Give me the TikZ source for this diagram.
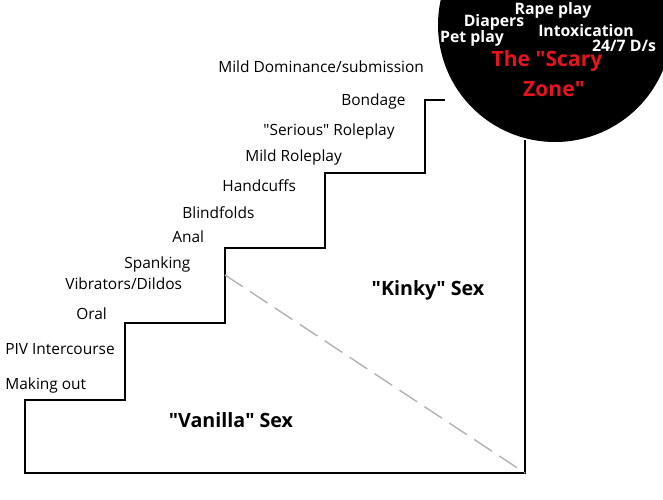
\documentclass[tikz,border=0pt]{standalone}
\usepackage{fontspec}
\setmainfont[Ligatures=NoCommon]{Open Sans}
\usetikzlibrary{positioning}
\definecolor{scaryred}{RGB}{230,20,30}

\begin{document}
\begin{tikzpicture}[x=0.02cm, y=-0.02cm,
    act/.style={font=\fontsize{8.8}{10}\selectfont, anchor=west, inner sep=0pt},
    zone/.style={font=\fontsize{11.2}{12}\selectfont\bfseries, inner sep=0pt},
    kink/.style={font=\fontsize{9}{10}\selectfont\bfseries, text=white, inner sep=0pt}
]
\useasboundingbox (0,0) rectangle (663,500);

% Staircase outline
\draw[thick] (525,140) -- (525,473) -- (25,473) -- (25,400) -- (125,400) -- (125,323)
    -- (225,323) -- (225,248) -- (325,248) -- (325,173) -- (425,173) -- (425,100) -- (445,100);
\draw[thick, gray!60, dash pattern=on 12pt off 5pt] (225,275) -- (525,473);

% Scary zone
\fill[black] (555,25) circle (117);

% Activities
\node[act] (mk) at (5,385) {Making out};
\node[act] (piv) at (5,349) {PIV Intercourse};
\node[act] (oral) at (76,314) {Oral};
\node[act] (vib) at (65,284) {Vibrators/Dildos};
\node[act] (spk) at (124,264) {Spanking};
\node[act] (anal) at (172,237) {Anal};
\node[act] (blind) at (182,213) {Blindfolds};
\node[act] (cuffs) at (222,186) {Handcuffs};
\node[act] (mrp) at (245,157) {Mild Roleplay};
\node[act] (srp) at (263,131) {\textquotedbl Serious\textquotedbl{} Roleplay};
\node[act] (bond) at (341,101) {Bondage};
\node[act] (mds) at (218,67) {Mild Dominance/submission};

% Zones
\node[zone] (kinky) at (428,290) {\textquotedbl Kinky\textquotedbl{} Sex};
\node[zone] (vanilla) at (231,420) {\textquotedbl Vanilla\textquotedbl{} Sex};

% Inside the circle
\node[kink] (rape) at (553,10) {Rape play};
\node[kink] (diap) at (494,22) {Diapers};
\node[kink] (pet) at (472,38) {Pet play};
\node[kink] (intox) at (586,31) {Intoxication};
\node[kink] (dds) at (624,46) {24/7 D/s};
\node[zone, text=scaryred, font=\fontsize{12}{12}\selectfont\bfseries] (scary1) at (547,61) {The \textquotedbl Scary};
\node[zone, text=scaryred, font=\fontsize{12}{12}\selectfont\bfseries] (scary2) at (554,89) {Zone\textquotedbl};

\end{tikzpicture}
\end{document}
